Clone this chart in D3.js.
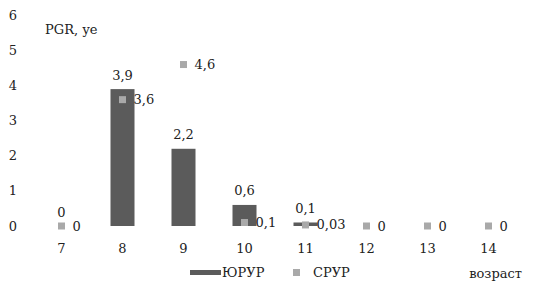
<!DOCTYPE html>
<html>
<head>
<meta charset="utf-8">
<script src="https://cdn.jsdelivr.net/npm/d3@7"></script>
<style>
  body { margin: 0; background: #fff; }
</style>
</head>
<body>
<svg id="chart" width="535" height="294" font-family="'DejaVu Serif', 'Liberation Serif', serif" font-size="13" fill="#222"></svg>
<script>
const ages = ["7", "8", "9", "10", "11", "12", "13", "14"];
const yurur = [0, 3.9, 2.2, 0.6, 0.1, null, null, null];
const srur = [0, 3.6, 4.6, 0.1, 0.03, 0, 0, 0];
const yTicks = [0, 1, 2, 3, 4, 5, 6];
const seriesNames = ["ЮРУР", "СРУР"];

const barColor = "#5b5b5b";
const markColor = "#a9a9a9";

const svg = d3.select("#chart");

const x = d3.scaleBand().domain(ages).range([31, 519]);
const y = d3.scaleLinear().domain([0, 6]).range([226, 15.4]);

const fmt = v => String(v).replace(".", ",");

// y tick labels, no axis line
svg.append("g")
    .selectAll("text")
    .data(yTicks)
    .join("text")
    .attr("x", 13)
    .attr("y", d => y(d))
    .attr("dy", "0.35em")
    .attr("text-anchor", "middle")
    .text(d => d);

// x labels
svg.append("g")
    .selectAll("text")
    .data(ages)
    .join("text")
    .attr("x", d => x(d) + x.bandwidth() / 2)
    .attr("y", 248)
    .attr("dy", "0.35em")
    .attr("text-anchor", "middle")
    .text(d => d);

svg.append("text")
    .attr("x", 45)
    .attr("y", 29)
    .attr("dy", "0.35em")
    .text("PGR, уе");

const barW = 24;
const bars = ages.map((a, i) => ({age: a, v: yurur[i]})).filter(d => d.v !== null);

svg.append("g")
    .selectAll("rect")
    .data(bars)
    .join("rect")
    .attr("x", d => x(d.age) + x.bandwidth() / 2 - barW / 2)
    .attr("y", d => y(d.v))
    .attr("width", barW)
    .attr("height", d => y(0) - y(d.v))
    .attr("fill", barColor);

svg.append("g")
    .selectAll("text")
    .data(bars)
    .join("text")
    .attr("x", d => x(d.age) + x.bandwidth() / 2)
    .attr("y", d => y(d.v) - 14)
    .attr("dy", "0.35em")
    .attr("text-anchor", "middle")
    .text(d => fmt(d.v));

const marks = ages.map((a, i) => ({age: a, v: srur[i]}));
const ms = 7;

svg.append("g")
    .selectAll("rect")
    .data(marks)
    .join("rect")
    .attr("x", d => x(d.age) + x.bandwidth() / 2 - ms / 2)
    .attr("y", d => y(d.v) - ms / 2)
    .attr("width", ms)
    .attr("height", ms)
    .attr("fill", markColor);

svg.append("g")
    .selectAll("text")
    .data(marks)
    .join("text")
    .attr("x", d => x(d.age) + x.bandwidth() / 2 + 11)
    .attr("y", d => y(d.v))
    .attr("dy", "0.35em")
    .text(d => fmt(d.v));

// legend
const lg = svg.append("g");
lg.append("rect").attr("x", 190).attr("y", 270).attr("width", 31).attr("height", 5).attr("fill", barColor);
lg.append("text").attr("x", 222).attr("y", 272).attr("dy", "0.35em").text(seriesNames[0]);
lg.append("rect").attr("x", 293).attr("y", 269).attr("width", ms).attr("height", ms).attr("fill", markColor);
lg.append("text").attr("x", 313).attr("y", 272).attr("dy", "0.35em").text(seriesNames[1]);
lg.append("text").attr("x", 522).attr("y", 273).attr("dy", "0.35em").attr("text-anchor", "end").text("возраст");
</script>
</body>
</html>
